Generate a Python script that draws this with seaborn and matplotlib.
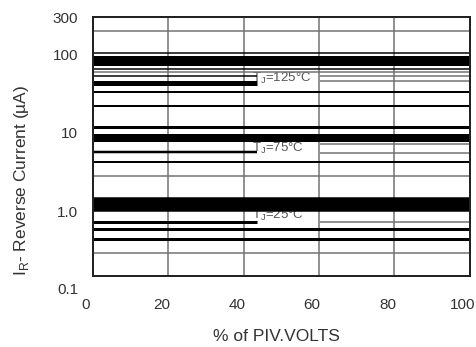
import matplotlib
matplotlib.use("Agg")
import matplotlib.pyplot as plt
import matplotlib.transforms as mtransforms
import seaborn as sns

# x axis: % of PIV volts
pct_ticks = [0, 20, 40, 60, 80, 100]

# y axis: reverse current (uA), log scale
current_ticks = [300, 100, 10, 1.0]
current_tick_labels = ["300", "100", "10", "1.0"]

# horizontal lines running across the whole chart (uA)
band_levels = [200, 105, 82, 66, 60, 33, 22, 11.9, 8.7, 4.3, 2.84, 1.23, 0.6, 0.446, 0.292]

# junction temperature curves
tj_labels = ["125", "75", "25"]
tj_left_levels = [[53, 43.4], [5.7], [0.741]]      # drawn from 0 % up to the label
tj_right_levels = [[52.7, 45.5], [7.3, 5.5], [0.74]]  # drawn from 60 % to 100 %
tj_label_levels = [49.2, 6.28, 0.876]

# styles (pixel thickness) kept apart from the values
band_px = [1.5, 1.5, 10, 1.5, 1.5, 2, 2, 3, 8, 2, 1.5, 14.5, 3, 3, 1.5]
band_gray = [True, False, False, False, True, False, False, False, False,
             False, True, False, False, False, True]
tj_left_px = [[1.5, 5], [2.5], [3]]
left_end, right_start, label_x = 43.5, 60.2, 42.2

sns.set_theme(style="white")
plt.rcParams['font.family'] = ['Liberation Sans', 'DejaVu Sans']
plt.rcParams['mathtext.fontset'] = 'custom'
plt.rcParams['mathtext.rm'] = 'Liberation Sans'

fig = plt.figure(figsize=(4.77, 3.47), dpi=100)
ax = fig.add_axes([0.195, 0.2046, 0.790, 0.746])
ax.set_yscale('log')

px = 0.72  # pixel -> points at 100 dpi
grey = '#707070'

# vertical grid
for x in pct_ticks[1:-1]:
    ax.axvline(x, color=grey, lw=1.5 * px, zorder=1)

for v, w, g in zip(band_levels, band_px, band_gray):
    sns.lineplot(x=[0, 100], y=[v, v], ax=ax, color=grey if g else 'black',
                 linewidth=w * px, solid_capstyle='butt', zorder=3)

for lab, lefts, lws, rights, ly in zip(tj_labels, tj_left_levels, tj_left_px,
                                       tj_right_levels, tj_label_levels):
    for v, w in zip(lefts, lws):
        sns.lineplot(x=[0, left_end], y=[v, v], ax=ax, color='black',
                     linewidth=w * px, solid_capstyle='butt', zorder=3)
    for v in rights:
        sns.lineplot(x=[right_start, 100], y=[v, v], ax=ax, color=grey,
                     linewidth=1.5 * px, solid_capstyle='butt', zorder=3)
    ax.text(label_x, ly, r"T$_\mathregular{J}$=" + lab + "°C", fontsize=9.5,
            color='#555555', ha='left', va='center', zorder=2)

ax.set_xlim(0, 100)
ax.set_ylim(0.15, 300)
ax.set_xticks(pct_ticks)
ax.set_xticklabels([str(t) for t in pct_ticks])
ax.set_yticks(current_ticks)
ax.set_yticklabels(current_tick_labels)
ax.minorticks_off()
ax.tick_params(axis='both', length=0, labelsize=11, labelcolor='#333333')
ax.tick_params(axis='y', pad=10.8)
ax.tick_params(axis='x', pad=16)

shift = mtransforms.ScaledTranslation(-7 / 100, 0, fig.dpi_scale_trans)
for t in ax.get_xticklabels():
    t.set_transform(t.get_transform() + shift)

# bottom label sits below the frame
ax.text(-0.0398, 0.1, "0.1", transform=ax.get_yaxis_transform(), ha='right',
        va='center', fontsize=11, color='#333333', clip_on=False)

ax.set_xlabel("% of PIV.VOLTS", fontsize=12.5, color='#333333')
ax.set_ylabel(r"I$_\mathregular{R}$- Reverse Current (µA)", fontsize=12.5, color='#333333')
ax.xaxis.set_label_coords(0.488, -0.205)
ax.yaxis.set_label_coords(-0.165, 0.37)

for s in ax.spines.values():
    s.set_color('#222222')
    s.set_linewidth(2 * px)
    s.set_zorder(5)

fig.savefig("out.png", dpi=100)
